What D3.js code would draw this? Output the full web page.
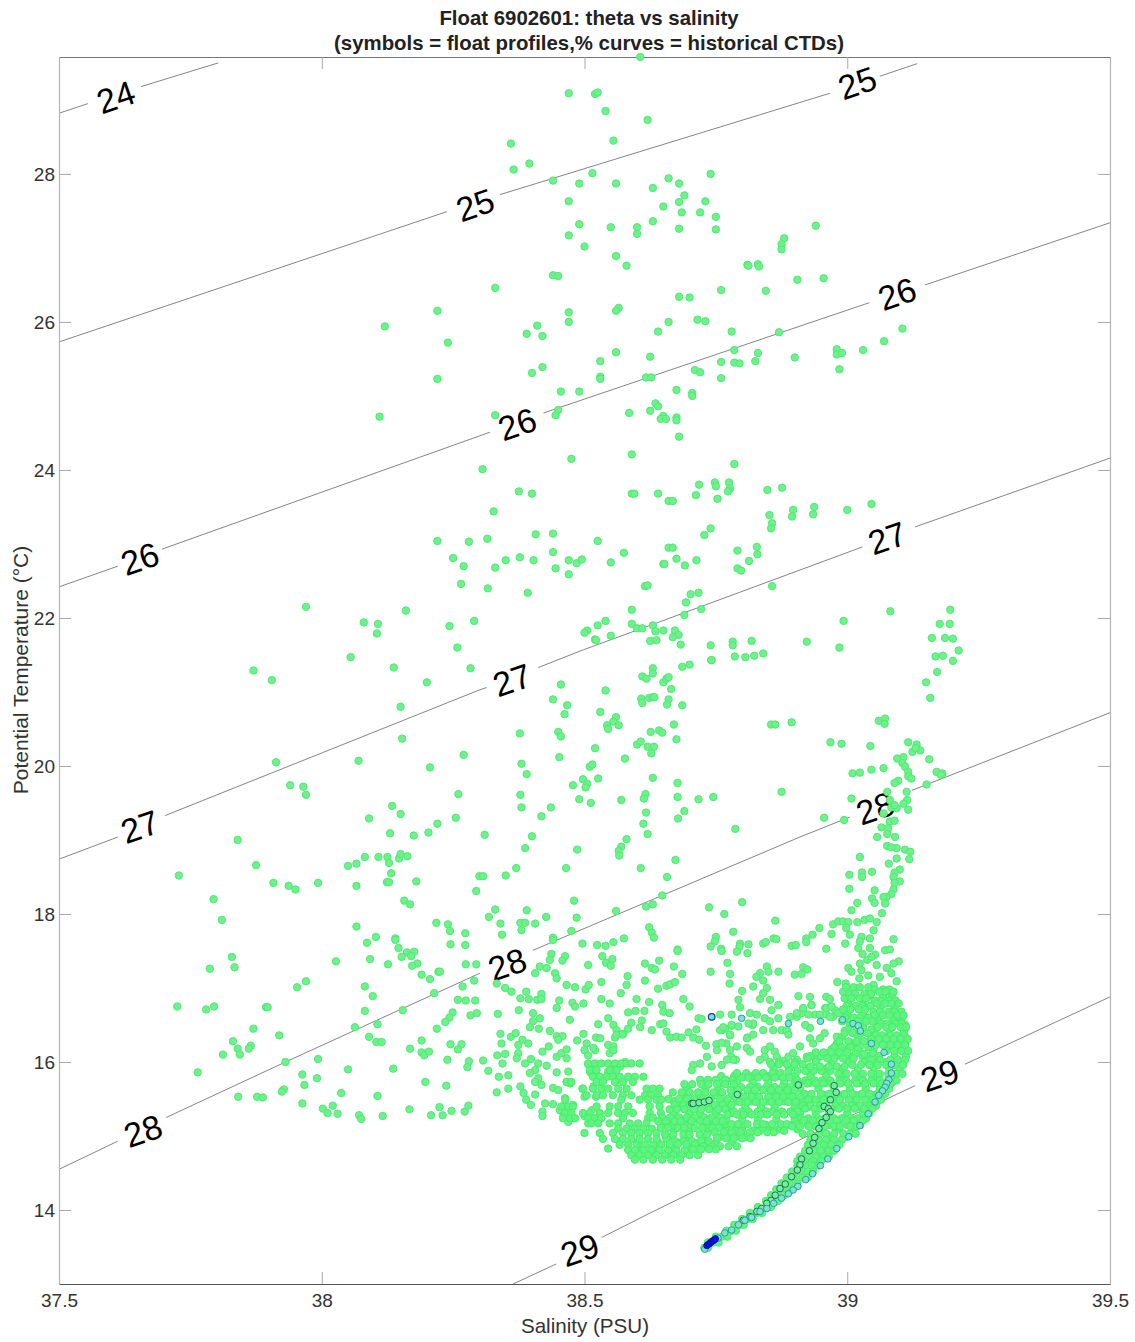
<!DOCTYPE html>
<html><head><meta charset="utf-8">
<script src="https://cdn.jsdelivr.net/npm/d3@7"></script>
<style>html,body{margin:0;padding:0;background:#fff}svg{display:block}text{font-family:"Liberation Sans",Arial,sans-serif}</style>
</head><body><div id="c"></div>
<script>
const xTicks=[37.5,38,38.5,39,39.5];
const xTickLabels=["37.5","38","38.5","39","39.5"];
const yTicks=[14,16,18,20,22,24,26,28];
const titleLines=["Float 6902601: theta vs salinity","(symbols = float profiles,% curves = historical CTDs)"];
// isopycnal segments (salinity,theta vertices), gaps are where the labels sit
const densityLines=[
[37.5,28.82,37.555,28.95],[37.656,29.18,37.803,29.5],
[37.5,25.73,38.238,27.49],[38.339,27.72,38.967,29.09],[39.062,29.32,39.133,29.49],
[37.5,22.42,37.612,22.7],[37.696,22.93,38.32,24.51],[38.422,24.77,38.663,25.35,39.042,26.26],[39.148,26.5,39.5,27.34],
[37.5,18.74,37.612,19.04],[37.702,19.33,38.301,21.03,38.314,21.06],[38.412,21.33,38.498,21.57,38.644,21.95,39.029,22.96],[39.129,23.23,39.5,24.16],
[37.5,14.55,37.612,14.93],[37.704,15.25,37.931,16,38.301,17.2],[38.402,17.51,38.91,19.04,39.005,19.31],[39.123,19.67,39.5,20.72],
[38.364,13,38.446,13.27],[38.533,13.63,38.625,13.96,38.916,14.97,39.129,15.68],[39.224,15.97,39.5,16.88]];
const densityLabels=[["24",37.608,29.04],["25",38.292,27.58],["25",39.019,29.23],["26",37.654,22.8],["26",38.372,24.62],["26",39.095,26.38],["27",37.654,19.18],["27",38.362,21.16],["27",39.076,23.08],["28",37.66,15.07],["28",38.353,17.32],["28",39.053,19.43],["29",38.491,13.46],["29",39.176,15.82]];
// scattered float samples, flat salinity,theta
const warmProfiles=[38.606,29.58,38.47,29.09,38.52,29.08,38.525,29.1,38.54,28.85,38.62,28.73,38.555,28.45,38.36,28.41,38.395,28.14,38.365,28.06,38.44,27.91,38.49,27.87,38.515,28.01,38.56,27.87,38.63,27.81,38.66,27.94,38.47,27.63,38.65,27.56,38.49,27.32,38.55,27.28,38.6,27.28,38.6,27.19,38.63,27.36,38.47,27.17,38.5,27.02,38.56,26.89,38.58,26.76,38.44,26.63,38.45,26.62,38.33,26.46,38.22,26.15,38.12,25.94,38.24,25.72,38.47,26.13,38.47,26,38.565,26.19,38.56,26.15,38.41,25.95,38.39,25.84,38.42,25.81,38.64,25.87,38.66,26,38.56,25.59,38.625,25.53,38.74,28,38.68,27.87,38.69,27.71,38.68,27.62,38.73,27.63,38.685,27.48,38.72,27.48,38.75,27.42,38.68,27.26,38.75,27.25,38.94,27.3,38.88,27.13,38.875,27.05,38.875,26.98,38.81,26.77,38.812,26.76,38.83,26.78,38.832,26.75,38.905,26.57,38.955,26.59,38.76,26.43,38.845,26.42,38.68,26.34,38.7,26.33,38.715,26.03,38.73,26.01,38.78,25.87,38.87,25.86,39.105,25.91,39.07,25.74,38.785,25.62,38.83,25.58,39.03,25.62,38.98,25.63,38.98,25.56,38.99,25.58,38.9,25.52,38.76,25.46,38.785,25.45,38.795,25.44,38.825,25.47,38.985,25.36,38.71,25.35,38.72,25.32,38.76,25.24,38.617,25.25,38.627,25.25,38.675,25.08,38.705,25.04,38.705,25,38.53,25.47,38.53,25.26,38.53,25.23,38.585,24.77,38.635,24.9,38.64,24.86,38.625,24.8,38.65,24.73,38.645,24.69,38.655,24.69,38.675,24.71,38.675,24.67,38.68,24.45,38.59,24.21,38.785,24.08,38.42,25.39,38.4,25.31,38.22,25.23,38.455,25.06,38.49,25.06,38.11,24.72,38.33,24.74,38.45,24.81,38.445,24.74,38.475,24.15,38.306,24.01,38.375,23.71,38.4,23.68,38.59,23.68,38.595,23.68,38.64,23.68,38.327,23.44,38.66,23.58,38.22,23.04,38.28,23.03,38.315,23.07,38.44,23.14,38.407,23.13,38.525,23.04,38.25,22.81,38.27,22.7,38.33,22.68,38.35,22.78,38.377,22.82,38.403,22.78,38.44,22.89,38.445,22.67,38.47,22.78,38.485,22.74,38.495,22.79,38.47,22.59,38.575,22.88,38.55,22.75,38.65,22.73,38.66,22.95,38.265,22.46,38.316,22.4,38.392,22.34,38.615,22.43,38.62,22.44,38.16,22.1,38.107,21.92,38.105,21.79,38.243,21.89,38.29,21.96,38.258,21.6,38.59,22.11,38.59,21.92,38.54,21.96,38.525,21.9,38.505,21.83,38.5,21.8,38.52,21.71,38.522,21.7,38.55,21.76,38.6,21.86,38.61,21.86,38.63,21.9,38.635,21.82,38.65,21.83,38.625,21.69,38.637,21.7];
const midProfiles=[37.97,22.15,38.08,21.94,38.055,21.47,38.137,21.33,38.283,21.32,37.87,21.29,37.905,21.16,38.2,21.13,38.15,20.8,38.153,20.37,38.27,20.15,37.913,20.05,38.07,20.07,38.206,19.98,37.94,19.74,37.965,19.72,37.97,19.61,38.26,19.62,38.134,19.46,38.15,19.35,38.09,19.29,38.255,19.3,38.13,19.09,38.175,19.06,38.203,19.1,38.22,19.22,37.84,19,37.875,18.66,37.728,18.52,37.908,18.42,37.937,18.38,37.95,18.33,37.993,18.42,38.05,18.65,38.066,18.68,38.082,18.77,38.108,18.77,38.125,18.77,38.128,18.69,38.147,18.75,38.15,18.81,38.163,18.78,38.132,18.55,38.066,18.38,38.124,18.43,38.128,18.43,38.18,18.44,38.294,18.31,38.157,18.18,38.168,18.13,37.794,18.2,37.81,17.92,38.3,18.51,38.455,21.1,38.54,21.02,38.44,20.9,38.467,20.82,38.462,20.7,38.53,20.73,38.56,20.66,38.555,20.6,38.543,20.55,38.545,20.5,38.565,20.55,38.377,20.44,38.45,20.46,38.455,20.4,38.52,20.24,38.452,20.12,38.577,20.1,38.38,20.03,38.39,19.89,38.51,19.99,38.515,20.02,38.497,19.82,38.505,19.76,38.502,19.71,38.478,19.74,38.526,19.83,38.378,19.61,38.38,19.44,38.49,19.55,38.512,19.5,38.436,19.44,38.418,19.32,38.31,19.07,38.4,19.05,38.387,18.89,38.486,18.87,38.37,18.62,38.35,18.52,38.307,18.51,38.465,18.62,38.57,19.54,38.616,19.62,38.613,19.56,38.617,19.37,38.612,19.22,38.62,19.08,38.58,19.01,38.57,18.91,38.565,18.85,38.566,18.79,38.607,18.62,38.673,18.73,38.657,18.5,38.63,19.84,38.677,19.77,38.677,19.58,38.717,19.55,38.745,19.58,38.69,19.39,38.678,19.29,38.875,19.65,38.787,19.15,38.6,20.29,38.607,20.33,38.62,20.26,38.632,20.26,38.627,20.17,38.626,20.46,38.642,20.48,38.648,20.45,38.67,20.56,38.675,20.36,38.608,20.91,38.61,20.85,38.623,20.92,38.63,20.93,38.633,20.93,38.66,20.9,38.657,20.83,38.686,20.82,38.665,21.04,38.63,21.32,38.63,21.25,38.61,21.21,38.618,21.18,38.65,21.13,38.656,21.18,38.66,21.2,38.686,21.34,38.7,21.37,38.742,21.43,38.786,21.48,38.806,21.47,38.823,21.49,38.84,21.52,38.855,20.56,38.863,20.56,38.894,20.59,38.718,23.8,38.712,23.66,38.748,23.83,38.75,23.78,38.775,23.83,38.777,23.75,38.773,23.71,38.753,23.61,38.668,23.58,38.848,23.73,38.876,23.76,38.852,23.39,38.857,23.28,38.855,23.21,38.897,23.46,38.895,23.37,38.937,23.5,38.935,23.4,39,23.46,39.046,23.54,38.74,23.21,38.728,23.12,38.668,22.95,38.675,22.8,38.652,22.73,38.691,22.71,38.713,22.78,38.791,22.91,38.828,22.96,38.829,22.86,38.813,22.77,38.791,22.67,38.798,22.64,38.857,22.43,38.702,22.32,38.717,22.34,38.693,22.21,38.69,22.04,38.722,22.12,38.672,21.83,38.679,21.77,38.668,21.74,38.683,21.64,38.74,21.63,38.741,21.43,38.782,21.68,38.782,21.63,38.818,21.69,38.923,21.68,38.993,21.96,38.985,21.6,39.082,22.09,39.196,22.11,39.176,21.92,39.195,21.92,39.161,21.73,39.186,21.73,39.201,21.72,39.212,21.56,39.168,21.48,39.182,21.49,39.201,21.42,39.171,21.27,39.15,21.13,39.158,20.92,38.968,20.32,38.989,20.3,39.044,20.27,39.06,20.61,39.072,20.64,39.071,20.57];
const ridgeProfiles=[39.116,20.32,39.132,20.29,39.139,20.21,39.124,20.19,39.13,20.24,39.156,20.09,39.095,20.1,39.107,20.12,39.105,20.04,39.11,19.99,39.116,19.92,39.116,19.86,39.122,19.83,39.01,19.9,39.024,19.91,39.046,19.95,39.069,19.97,39.17,19.92,39.181,19.9,39.178,19.88,39.151,19.75,39.097,19.8,39.09,19.77,39.076,19.65,39.113,19.65,39.008,19.56,39.114,19.54,39.107,19.49,39.116,19.41,39.094,19.43,39.084,19.44,39.081,19.54,39.09,19.47,38.956,19.3,38.994,19.27,39.069,19.36,39.081,19.25,39.09,19.26,39.065,19.17,39.078,19.16,39.076,19.08,39.091,19.04,39.057,19.04,39.076,18.92,39.094,18.89,39.084,18.9,39.11,18.87,39.12,18.84,39.118,18.74,39.094,18.75,39.024,18.77,39.079,18.68,39.1,18.6,39.09,18.56,39.088,18.5,39.1,18.44,39.09,18.42,39.088,18.33,39.004,18.53,39.028,18.56,39.028,18.5,39.047,18.57,39.004,18.34,39.052,18.32,39.084,18.27,39.075,18.23,39.069,18.23,39.047,18.21,39.052,18.15,39.072,18.14,39.066,18.01,39.019,18.15,39.008,18.05,38.973,17.86,38.983,17.9,38.992,17.9,39.002,17.89,39.019,17.89,39.033,17.92,39.043,17.94,39.056,17.89,38.998,17.81,39.005,17.72,39.05,17.78,38.947,17.81,38.934,17.72,38.922,17.67,38.922,17.62,38.97,17.73,38.96,17.53,38.996,17.6,39.027,17.69,39.024,17.63,39.043,17.67,39.021,17.54,39.043,17.54,39.029,17.46,39.053,17.45,39.038,17.38,39.046,17.42,39.088,17.66,39.072,17.51,39.081,17.52,39.098,17.36,39.088,17.33,39.056,17.31,39.075,17.27,39.062,17.15,39.084,17.2,39.094,17.09,39.002,17.27,39.008,17.22,39.024,17.33,39.023,17.13,39.04,17.17,39.027,17.24,39.05,17.04,38.9,17.18,38.913,17.19,38.916,17.28,38.924,17.25,38.981,17.08,38.997,17.06,38.992,16.95,38.907,16.89,38.929,16.88,38.96,16.88,38.967,16.85,38.932,16.77,38.916,16.71,38.913,16.66,38.904,16.61,38.891,16.61,38.958,16.73,38.97,16.75,38.977,16.7,38.96,16.64,38.973,16.61,38.939,16.64,38.926,16.64];
const coolProfiles=[38.648,18.25,38.48,18.18,38.56,18.04,38.617,18.1,38.63,18.13,38.39,18.05,38.33,18.06,38.318,17.96,38.34,17.87,38.343,17.72,38.378,17.88,38.387,17.88,38.38,17.78,38.406,17.87,38.427,17.96,38.485,17.95,38.475,17.77,38.44,17.68,38.44,17.65,38.496,17.6,38.524,17.58,38.54,17.57,38.555,17.62,38.575,17.67,38.623,17.82,38.628,17.75,38.632,17.68,38.737,18.09,38.766,18,38.8,18.16,38.863,17.91,38.783,17.76,38.75,17.69,38.748,17.63,38.74,17.56,38.76,17.53,38.796,17.6,38.812,17.59,38.795,17.56,38.84,17.6,38.845,17.62,38.86,17.67,38.865,17.66,38.894,17.57,38.902,17.58,38.677,17.52,38.066,17.83,38.218,17.88,38.24,17.86,38.244,17.77,38.273,17.74,38.245,17.59,38.273,17.58,38.103,17.69,38.086,17.61,38.14,17.67,38.14,17.65,38.146,17.54,38.162,17.48,38.176,17.49,38.17,17.43,38.152,17.42,38.182,17.33,38.172,17.3,38.092,17.39,38.126,17.32,38.027,17.36,37.829,17.42,37.834,17.28,37.787,17.26,37.953,17.01,37.97,17.09,38.222,17.22,38.225,17.22,38.19,17.18,38.206,17.12,38.082,17.02,38.097,16.89,38.274,17.32,38.294,17.32,38.29,17.1,38.268,17.02,38.214,16.93,38.259,16.84,38.274,16.83,38.292,16.83,38.154,16.7,38.082,16.69,37.725,16.75,37.78,16.71,37.795,16.75,37.894,16.74,37.897,16.74,38.106,16.51,38.063,16.47,38.09,16.34,38.104,16.27,38.114,16.27,38.249,16.67,38.243,16.6,38.235,16.54,38.283,16.63,38.295,16.66,38.219,16.45,38.19,16.29,37.87,16.45,37.919,16.36,37.831,16.28,37.84,16.18,37.844,16.1,37.865,16.22,37.861,16.18,37.812,16.1,37.764,15.86,37.931,16,37.993,16.04,37.963,15.83,37.991,15.78,37.967,15.69,37.928,15.63,37.924,15.6,38.05,15.9,38.136,15.91,38.168,16.18,38.19,16.13,38.195,16.09,38.204,16.14,38.245,16.24,38.266,16.24,38.259,16.17,38.239,16.03,38.28,16.01,38.277,15.93,38.197,15.73,38.237,15.68,37.841,15.53,37.877,15.53,37.888,15.52,37.963,15.44,38.037,15.58,38.106,15.54,38.002,15.37,38.021,15.41,38.011,15.31,38.03,15.3,38.071,15.28,38.075,15.23,38.116,15.27,38.167,15.36,38.224,15.39,38.208,15.28,38.23,15.28,38.247,15.34,38.279,15.41,38.272,15.33];
const shoulderProfiles=[38.437,17.46,38.463,17.43,38.458,17.37,38.434,17.38,38.415,17.29,38.406,17.2,38.428,17.27,38.444,17.2,38.447,17.13,38.534,17.43,38.541,17.34,38.553,17.39,38.55,17.3,38.507,17.31,38.615,17.33,38.642,17.37,38.628,17.27,38.634,17.25,38.67,17.29,38.686,17.19,38.582,17.16,38.58,17.04,38.615,17.1,38.466,17.04,38.482,17.01,38.502,16.98,38.508,17.04,38.532,17.08,38.569,16.93,38.64,16.99,38.656,17.03,38.663,17.05,38.672,17.08,38.74,17.22,38.772,17.34,38.777,17.19,38.776,17.06,38.8,16.96,38.81,17.47,38.677,17.5,38.79,17.49,38.349,17,38.361,16.95,38.333,17.06,38.389,16.95,38.378,16.86,38.394,16.85,38.418,16.92,38.41,16.84,38.418,16.85,38.452,16.83,38.447,16.73,38.477,16.8,38.482,16.75,38.498,16.79,38.532,16.85,38.548,16.79,38.599,16.85,38.623,16.81,38.583,16.67,38.597,16.69,38.614,16.69,38.648,16.77,38.65,16.68,38.662,16.66,38.688,16.85,38.7,16.75,38.335,16.65,38.375,16.7,38.402,16.66,38.415,16.59,38.402,16.55,38.396,16.47,38.413,16.45,38.472,16.57,38.526,16.51,38.545,16.59,38.555,16.5,38.561,16.43,38.574,16.38,38.558,16.33,38.589,16.53,38.583,16.45,38.609,16.56,38.606,16.47,38.628,16.43,38.644,16.51,38.65,16.52,38.656,16.41,38.663,16.33,38.675,16.34,38.685,16.33,38.717,16.59,38.723,16.58,38.758,16.64,38.78,16.64,38.698,16.4,38.713,16.44,38.707,16.33,38.718,16.3,38.731,16.22,38.768,16.45,38.761,16.43,38.78,16.49,38.796,16.74,38.777,16.36,38.81,16.33,38.82,16.5,38.77,16.25,38.751,16.24,38.761,16.26,38.777,16.16,38.779,16.07,38.788,16.03,38.34,16.38,38.36,16.34,38.369,16.39,38.342,16.25,38.349,16.11,38.334,16.09,38.374,16.23,38.382,16.3,38.393,16.25,38.374,16.12,38.371,16.05,38.387,15.98,38.398,16.04,38.434,16.42,38.447,16.35,38.458,16.35,38.45,16.3,38.486,16.29,38.498,16.38,38.522,16.33,38.53,16.32,38.504,16.25,38.5,16.16,38.507,16.09,38.52,16.16,38.517,16.19,38.545,16.23,38.561,16.37,38.572,16.37,38.555,16.21,38.548,16.12,38.555,16.16,38.42,16.14,38.432,16.21,38.447,16.07,38.456,16.12,38.466,16.17,38.466,16.05,38.469,15.87,38.447,15.86,38.412,15.98,38.428,15.95,38.406,15.89,38.396,15.85,38.412,15.78,38.406,15.73,38.418,15.69,38.44,15.65,38.45,15.62,38.355,15.82,38.337,15.8,38.344,15.98,38.307,16.02,38.317,15.88,38.333,15.59,38.355,15.64,38.378,15.67,38.384,15.58,38.389,15.49,38.406,15.56,38.425,15.44,38.398,15.42,38.42,15.33,38.42,15.27,38.44,15.43,38.463,15.51,38.478,15.42,38.453,15.35,38.46,15.28,38.469,15.19,38.48,15.24,38.5,15.27,38.514,15.35,38.507,15.17,38.466,15.73,38.473,15.71,38.496,15.64,38.517,15.67,38.523,15.83,38.5,15.53,38.522,15.53,38.511,15.86,38.507,15.97,38.517,15.92,38.545,15.87,38.555,15.92,38.568,15.94,38.577,16,38.847,17.29,38.834,17.2,38.827,17.15,38.84,17.1,38.85,17.22,38.869,17.22,38.821,17.02,38.847,17,38.84,16.93,38.853,16.84,38.834,16.85,38.869,16.77,38.856,16.7,38.793,16.84,38.761,17.5,38.815,16.66,38.828,16.64,38.843,16.59,38.853,16.55,38.869,16.59,38.875,16.43,38.885,16.43,38.888,16.37,38.859,16.43,38.84,16.43,38.821,16.52,38.812,16.52,38.809,16.32,38.821,16.37,38.777,16.37,38.758,16.43,38.764,16.47,38.78,16.5,38.793,16.48,38.809,16.19,38.815,16.14,38.843,16.16,38.853,16.21,38.862,16.14,38.843,16.07,38.834,16.03,38.853,16,38.866,16.07,38.878,16.01,38.888,16.07,38.897,16.12,38.91,16.21,38.929,16.32,38.935,16.25,38.948,16.32,38.957,16.39,38.98,16.34,38.929,16.46,38.92,16.5,38.904,16.66,38.916,16.73,38.932,16.77,38.948,16.64,38.961,16.73,38.97,16.75,38.983,16.66,38.996,16.68,38.967,16.61,39.005,16.52,39,16.16,39.024,16.21,39.005,16.03,39.03,16.07,38.98,16.12,38.961,16.12,38.942,16.03,38.923,16.07,38.904,16.03,38.783,16.03,38.79,16.21,38.752,16.16,38.733,16.07,38.72,15.98,38.707,15.96,38.704,15.89,38.742,15.94,38.761,15.96,38.771,16.03];
// densely packed samples, each row is a theta followed by the salinities read near that level
const bandLeftRows=[
[15.98,38.507,38.52,38.532,38.545,38.558,38.57,38.58,38.589,38.605],
[15.89,38.51,38.523,38.548,38.561],
[15.8,38.516,38.529,38.542,38.554,38.567,38.583,38.596,38.612],
[15.73,38.466,38.475,38.523,38.535,38.558,38.573,38.592],
[15.64,38.497,38.516,38.532,38.545,38.564,38.58,38.618,38.63,38.643],
[15.55,38.504,38.523,38.535,38.554,38.573,38.589,38.615,38.627,38.64],
[15.49,38.463,38.57,38.605,38.621,38.637,38.646],
[15.4,38.456,38.469,38.478,38.523,38.548,38.564,38.583,38.624,38.643],
[15.31,38.463,38.475,38.497,38.51,38.529,38.545,38.564,38.577,38.592,38.624],
[15.24,38.459,38.472,38.482,38.507,38.52,38.532,38.573,38.621],
[15.17,38.513,38.526,38.548,38.564,38.586,38.602,38.618],
[15.1,38.564,38.58,38.596,38.612,38.628],
[15.04,38.5,38.529,38.554,38.573,38.589,38.605,38.621,38.637],
[14.96,38.535,38.558,38.573,38.589,38.605,38.621,38.637,38.656],
[14.83,38.545],
[14.88,38.567,38.583,38.599,38.615,38.631,38.646],
[14.81,38.583,38.596,38.612,38.627,38.643,38.659,38.675,38.691],
[14.74,38.589,38.605,38.621,38.637,38.653,38.669,38.684,38.7,38.716],
[14.68,38.596,38.612,38.63,38.648,38.665,38.682]];
const bandRightRows=[
[15.85,38.79,38.808,38.826,38.84,38.858,38.873],[15.88,38.888,38.905,38.92,38.936,38.951,38.968],[15.84,38.983,38.999,39.014,39.03,39.046,39.062,39.078,39.094,39.105],
[15.76,38.72,38.735,38.75,38.768,38.782],[15.79,38.8,38.812,38.83,38.845,38.862,38.878,38.89],[15.75,38.905,38.92,38.938,38.952,38.968,38.985,38.998,39.015,39.03,39.046,39.062,39.078,39.094],
[15.7,38.69,38.705,38.722,38.736,38.752,38.768,38.784],[15.66,38.798,38.815,38.83,38.846,38.862,38.876,38.892],[15.71,38.908,38.924,38.94,38.954,38.97,38.986,39.002,39.018,39.034,39.05,39.066,39.082],
[15.59,38.668,38.685,38.7,38.716,38.73,38.746,38.762],[15.62,38.778,38.792,38.81,38.824,38.84,38.855,38.87,38.886,38.9],[15.57,38.918,38.932,38.95,38.965,38.98,38.995,39.01,39.028,39.042,39.058,39.072],
[15.5,38.66,38.68,38.695,38.709,38.726,38.74,38.758,38.772],[15.53,38.787,38.803,38.818,38.832,38.85,38.865,38.878,38.896,38.91],[15.49,38.926,38.94,38.955,38.972,38.986,39.003,39.018,39.034,39.05,39.064],
[15.42,38.672,38.688,38.7,38.718,38.735,38.748,38.763,38.78],[15.46,38.795,38.81,38.826,38.84,38.856,38.87,38.888,38.902],[15.41,38.915,38.93,38.947,38.96,38.978,38.992,39.008,39.025,39.04,39.055],
[15.36,38.662,38.676,38.69,38.708,38.722,38.737,38.755,38.768],[15.33,38.784,38.8,38.812,38.83,38.846,38.858,38.876,38.892,38.905],[15.37,38.92,38.938,38.95,38.97,38.984,39,39.014,39.032,39.048],
[15.25,38.63,38.648,38.663,38.68,38.695,38.71,38.728,38.742,38.758],[15.29,38.772,38.79,38.803,38.818,38.835,38.848,38.866,38.88,38.897],[15.24,38.912,38.926,38.944,38.958,38.975,38.99,39.006,39.02,39.036],
[15.2,38.64,38.655,38.672,38.683,38.704,38.72,38.732,38.75,38.763],[15.16,38.78,38.792,38.81,38.828,38.84,38.857,38.873,38.885,38.905],[15.21,38.917,38.935,38.948,38.968,38.98,38.998,39.012,39.03],
[15.11,38.645,38.659,38.678,38.69,38.71,38.724,38.743,38.756],[15.07,38.77,38.787,38.799,38.82,38.834,38.85,38.861,38.88],[15.13,38.895,38.91,38.927,38.94,38.958,38.975,38.986,39.006,39.018],
[15.02,38.653,38.669,38.688,38.7,38.719,38.733],[15.05,38.748,38.765,38.78,38.797,38.815,38.829,38.848,38.86],[15.03,38.915,38.93,38.947,38.96,38.975,38.993,39.005,39.016],
[14.93,38.672,38.688,38.704,38.722,38.736],[14.97,38.752,38.77,38.784,38.8,38.816],[14.95,38.93,38.945,38.96,38.975,38.99],
[14.89,38.662,38.678,38.694,38.71],[14.86,38.726,38.742,38.758,38.774,38.79],[14.88,38.925,38.94,38.955,38.97,38.985],
[14.82,38.707,38.722,38.737,38.75],[14.8,38.92,38.935,38.95,38.965,38.975],[14.72,38.91,38.925,38.94,38.955,38.965],[14.66,38.905,38.92,38.935,38.95]];
const bandInfillRows=[
[14.77,38.6,38.63,38.66,38.695,38.92,38.95],[14.84,38.6,38.63,38.665,38.7,38.735,38.93,38.96],[14.91,38.6,38.64,38.68,38.715,38.75,38.78,38.935,38.965],[14.99,38.66,38.695,38.73,38.76,38.795,38.81,38.94,38.97,38.998],[15.09,38.67,38.7,38.735,38.765,38.8,38.83,38.87,38.905,38.95,38.985,39.012],
[15.15,38.65,38.668,38.7,38.735,38.77,38.802,38.845,38.89,38.925,38.966,39,39.025],[15.22,38.66,38.69,38.715,38.745,38.77,38.8,38.83,38.865,38.9,38.925,38.955,38.985,39.015],[15.31,38.645,38.67,38.7,38.72,38.75,38.78,38.81,38.84,38.87,38.91,38.94,38.965,39,39.03,39.042],[15.39,38.68,38.71,38.74,38.772,38.806,38.836,38.862,38.9,38.925,38.955,38.988,39.02,39.05],[15.47,38.67,38.705,38.73,38.76,38.79,38.818,38.848,38.88,38.915,38.948,38.98,39.012,39.042,39.058],[15.55,38.69,38.72,38.75,38.78,38.795,38.825,38.858,38.89,38.925,38.958,38.99,39.02,39.05,39.065],[15.64,38.695,38.73,38.755,38.785,38.82,38.85,38.88,38.91,38.945,38.975,39.005,39.035,39.062,39.08],[15.72,38.73,38.76,38.79,38.82,38.85,38.88,38.9,38.93,38.96,38.99,39.025,39.055,39.085],[15.81,38.76,38.785,38.82,38.85,38.87,38.9,38.93,38.96,38.99,39.02,39.05,39.085],[15.91,38.86,38.89,38.925,38.96,38.99,39.02,39.05,39.08,39.1],[16,38.87,38.9,38.94,38.97,39,39.03,39.055,39.075,39.105],[16.08,38.93,38.95,38.98,39.01,39.04,39.06,39.09,39.112],[16.17,38.97,39,39.02,39.05,39.075,39.1],[16.25,38.98,39.01,39.04,39.065,39.09,39.11],[16.34,38.99,39.02,39.045,39.075,39.1,39.11],[16.42,38.995,39.025,39.052,39.08,39.108],[16.5,39.005,39.03,39.056,39.085,39.11],[16.58,39.005,39.032,39.06,39.088,39.103],[16.66,39,39.03,39.058,39.085,39.1],[16.74,39.005,39.036,39.064,39.09],[16.81,39.002,39.03,39.06,39.088],[16.89,39.01,39.04,39.068,39.085]];
const blobRows=[
[17.01,38.998,39.012,39.024,39.04],[16.98,39.052,39.068,39.08],
[16.92,39.003,39.015,39.033,39.045],[16.95,39.061,39.073,39.088],
[16.86,38.995,39.008,39.024,39.036],[16.83,39.052,39.064,39.08,39.092],
[16.76,38.999,39.016,39.028,39.044],[16.79,39.056,39.072,39.084,39.098],
[16.71,38.992,39.006,39.022,39.034],[16.68,39.05,39.062,39.078,39.09,39.103],
[16.6,38.996,39.012,39.024,39.04],[16.63,39.052,39.068,39.08,39.096,39.107],
[16.55,38.99,39.02,39.036,39.048],[16.52,39.064,39.076,39.092,39.104],
[16.44,39.002,39.018,39.03,39.046],[16.47,39.058,39.074,39.086,39.102,39.112],
[16.39,38.995,39.01,39.026,39.038],[16.36,39.054,39.066,39.082,39.094,39.108],
[16.28,38.985,39.002,39.018,39.032],[16.31,39.046,39.06,39.074,39.088,39.102,39.115],
[16.2,38.975,38.99,39.006,39.04],[16.23,39.054,39.068,39.082,39.096,39.11],
[16.13,38.94,38.955,38.97,38.985,39],[16.11,39.016,39.032,39.048],[16.15,39.075,39.089,39.103,39.116],
[16.05,38.925,38.962,38.976,38.992,39.012],[16.03,39.045,39.062,39.082,39.096,39.11],
[15.97,38.855,38.87,38.885,38.9,38.915],[15.94,38.93,38.948,38.965,38.98,38.995],[15.96,39.01,39.026,39.042,39.058,39.074,39.09,39.106]];
const tailRows=[
[14.6,38.905,38.92,38.935,38.945],[14.52,38.895,38.91,38.925,38.935],[14.44,38.885,38.9,38.915,38.925],[14.36,38.875,38.89,38.905],[14.28,38.865,38.88,38.895],[14.2,38.855,38.87,38.88],[14.12,38.845,38.858,38.868],[14.04,38.83,38.845,38.855],[13.96,38.815,38.828,38.838],[13.88,38.8,38.812,38.82],[13.8,38.785,38.795,38.803],[13.72,38.77,38.78,38.788],[13.64,38.75,38.762,38.772],[13.56,38.735,38.745,38.755],[13.49,38.728,38.735]];
const cyanCycleSal=[38.742,38.799,38.888,38.949,38.991,39.011,39.021,39.025,39.046,39.07,39.084,39.084,39.079,39.075,39.072,39.067,39.06,39.053,39.04,39.024,39.003,38.98,38.963,38.949,38.934,38.921,38.906,38.897,38.888,38.875,38.86,38.847,38.834,38.818,38.805,38.793,38.78,38.767,38.754,38.729];
const cyanCycleTheta=[16.61,16.59,16.52,16.55,16.57,16.52,16.49,16.42,16.25,16.13,15.97,15.85,15.76,15.71,15.66,15.61,15.55,15.46,15.3,15.14,14.99,14.83,14.69,14.6,14.49,14.41,14.32,14.27,14.22,14.16,14.09,14.02,13.98,13.9,13.86,13.8,13.73,13.69,13.62,13.47];
const darkCycleSal=[38.704,38.707,38.718,38.728,38.737,38.791,38.907,38.975,38.979,38.968,38.956,38.964,38.968,38.96,38.952,38.946,38.938,38.935,38.928,38.913,38.91,38.905,38.894,38.882,38.872,38.863,38.855,38.847,38.837,38.828,38.815,38.802];
const darkCycleTheta=[15.44,15.44,15.45,15.46,15.48,15.56,15.69,15.68,15.59,15.49,15.4,15.37,15.33,15.25,15.18,15.1,14.98,14.9,14.8,14.69,14.61,14.54,14.45,14.35,14.29,14.2,14.13,14.09,14.02,13.98,13.91,13.86];
const deepSal=[38.733,38.737,38.74,38.743,38.746,38.749];
const deepTheta=[13.52,13.54,13.56,13.58,13.59,13.61];

const W=1135,H=1342,L=59,R=1110,T=57,B=1284;
const x=d3.scaleLinear().domain([37.5,39.5]).range([L,R]);
const y=d3.scaleLinear().domain([13,29.58]).range([B,T]);
const svg=d3.select("#c").append("svg").attr("width",W).attr("height",H).attr("viewBox",`0 0 ${W} ${H}`);

const chunk=a=>d3.range(0,a.length,2).map(i=>[a[i],a[i+1]]);
const line=d3.line().x(d=>x(d[0])).y(d=>y(d[1]));
svg.append("g").selectAll("path").data(densityLines).join("path")
  .attr("d",d=>line(chunk(d))).attr("fill","none").attr("stroke","#666").attr("stroke-width",.8);
svg.append("g").selectAll("text").data(densityLabels).join("text")
  .attr("transform",d=>`translate(${x(d[1])},${y(d[2])}) rotate(-19)`)
  .attr("text-anchor","middle").attr("dominant-baseline","central")
  .attr("font-size",34).attr("fill","#000").text(d=>d[0]);

// axes
function ticks(gen,tx){return svg.append("g").attr("transform",tx).call(gen)}
const styleAxis=(g,c)=>{g.select(".domain").attr("stroke",c).attr("stroke-width",1.2);
  g.selectAll(".tick line").attr("stroke","#a8a8a8").attr("stroke-width",1);
  g.selectAll(".tick text").attr("fill","#333").attr("font-size",19).attr("font-family",'"Liberation Sans",Arial,sans-serif');};
const fmt=d=>xTickLabels[xTicks.indexOf(d)];
ticks(d3.axisBottom(x).tickValues(xTicks).tickFormat(fmt).tickSize(-12).tickPadding(10).tickSizeOuter(0),`translate(0,${B})`).call(styleAxis,"#555");
ticks(d3.axisTop(x).tickValues(xTicks).tickFormat("").tickSize(-12).tickSizeOuter(0),`translate(0,${T})`).call(styleAxis,"#777");
ticks(d3.axisLeft(y).tickValues(yTicks).tickFormat(d3.format("d")).tickSize(-12).tickPadding(4).tickSizeOuter(0),`translate(${L},0)`).call(styleAxis,"#b4b4b4");
ticks(d3.axisRight(y).tickValues(yTicks).tickFormat("").tickSize(-12).tickSizeOuter(0),`translate(${R},0)`).call(styleAxis,"#b4b4b4");

// points
const fromRows=rows=>rows.flatMap(r=>r.slice(1).map(s=>[s,r[0]]));
const sparse=[...chunk(warmProfiles),...chunk(midProfiles),...chunk(ridgeProfiles),...chunk(coolProfiles),...chunk(shoulderProfiles)];
const dense=[...fromRows(bandInfillRows),...fromRows(bandLeftRows),...fromRows(bandRightRows),...fromRows(blobRows),...fromRows(tailRows)];
const dot=(sel,data,r,fill,stroke,sw)=>sel.append("g").selectAll("circle").data(data).join("circle")
  .attr("cx",d=>x(d[0])).attr("cy",d=>y(d[1])).attr("r",r).attr("fill",fill).attr("stroke",stroke).attr("stroke-width",sw);
dot(svg,sparse,3.7,"#6ef08e","#4eec6e",1);
dot(svg,dense,3.7,"#62f284","#44f066",1);
dot(svg,darkCycleSal.map((s,i)=>[s,darkCycleTheta[i]]),3.3,"#72f0a0","#24604e",.9);
dot(svg,cyanCycleSal.map((s,i)=>[s,cyanCycleTheta[i]]),3.3,"#78e6c8","#2a8fa4",.9);
dot(svg,[[cyanCycleSal[0],cyanCycleTheta[0]]],3.3,"#78dcd4","#124a9c",1.2);
dot(svg,deepSal.map((s,i)=>[s,deepTheta[i]]),3.2,"#1414d8","#0a0ac0",1);

// titles
svg.append("g").selectAll("text").data(titleLines).join("text")
  .attr("x",589).attr("y",(d,i)=>25+i*25).attr("text-anchor","middle")
  .attr("font-size",20.4).attr("font-weight","bold").attr("fill","#222").text(d=>d);
svg.append("text").attr("x",585).attr("y",1333).attr("text-anchor","middle").attr("font-size",20.6).attr("fill","#333").text("Salinity (PSU)");
svg.append("text").attr("transform","translate(28,670) rotate(-90)").attr("text-anchor","middle").attr("font-size",21).attr("fill","#333").text("Potential Temperature (°C)");
</script></body></html>
